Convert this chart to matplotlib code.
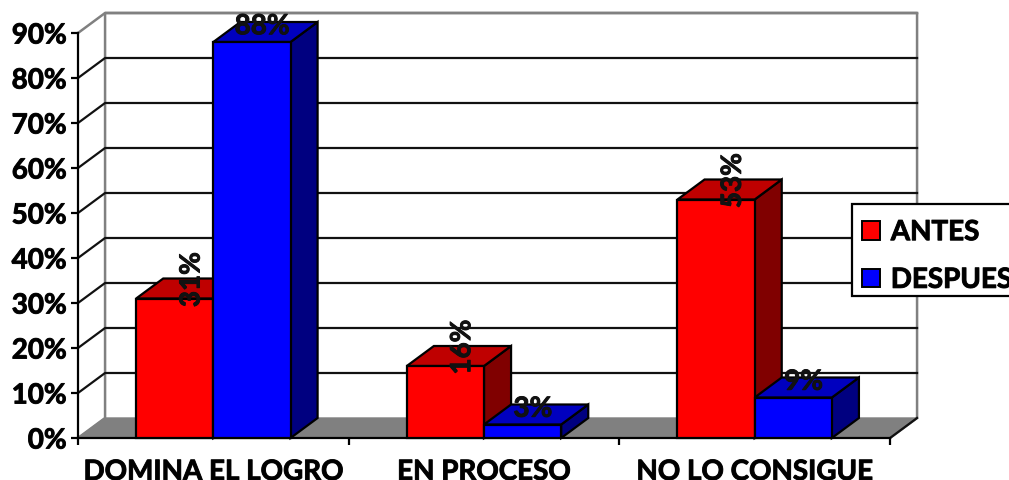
import numpy as np
import matplotlib
matplotlib.use("Agg")
import matplotlib.pyplot as plt
from matplotlib.patches import Polygon, Patch, Rectangle
import matplotlib.patheffects as pe

categories = ["DOMINA EL LOGRO", "EN PROCESO", "NO LO CONSIGUE"]
antes = [31, 16, 53]
despues = [88, 3, 9]
y_ticks = [0, 10, 20, 30, 40, 50, 60, 70, 80, 90]

plt.rcParams['font.family'] = ['Lato', 'DejaVu Sans']
plt.rcParams['font.weight'] = 'bold'

W, H = 1009, 481
fig = plt.figure(figsize=(W / 100, H / 100), dpi=100)
# front plane of the fake 3d box, in pixels
ax = fig.add_axes([78 / W, 1 - 439 / H, 812 / W, 405 / H])
ax.set_xlim(0, 3)
ax.set_ylim(0, 90)

# depth of the box in data units
dx = 27 / 270
dy = 20 / 4.5
bar_w = 77 / 270
FS = 20
# Lato bold is lighter than the original face, thicken it a bit
heavy = [pe.withStroke(linewidth=0.7, foreground='#111111')]


def poly(pts, fc, z, ec='black', lw=1.6):
    ax.add_patch(Polygon(pts, closed=True, facecolor=fc, edgecolor=ec,
                         linewidth=lw, zorder=z, clip_on=False, joinstyle='miter'))


# floor and walls
poly([(0, 0), (3, 0), (3 + dx, dy), (dx, dy)], '#808080', 1, ec='#808080', lw=1)
for t in y_ticks[1:-1]:
    ax.plot([0, dx, 3 + dx], [t, t + dy, t + dy], color='#111111', lw=1.6,
            zorder=1.2, clip_on=False)
ax.plot([0, dx, 3 + dx, 3 + dx, 3], [90, 90 + dy, 90 + dy, dy, 0], color='#808080',
        lw=1.8, zorder=1.1, clip_on=False)
ax.plot([0, dx, dx, 3 + dx], [0, dy, 90 + dy, 90 + dy], color='#808080',
        lw=1.8, zorder=1.1, clip_on=False)
ax.plot([3, 3 + dx], [0, dy], color='#111111', lw=1.6, zorder=1.3, clip_on=False)


def draw_series(offset, vals, front, top, side, z):
    xs = np.arange(len(vals)) + 0.5 + offset
    ax.bar(xs, vals, width=bar_w, color=front, edgecolor='black', linewidth=1.6,
           zorder=z + 0.2, clip_on=False)
    for x, v in zip(xs, vals):
        l, r = x - bar_w / 2, x + bar_w / 2
        poly([(r, 0), (r + dx, dy), (r + dx, v + dy), (r, v)], side, z)
        poly([(l, v), (r, v), (r + dx, v + dy), (l + dx, v + dy)], top, z + 0.1)


draw_series(-bar_w / 2, antes, '#ff0000', '#bf0000', '#800000', 3)
draw_series(bar_w / 2, despues, '#0000ff', '#0000bf', '#000080', 4)

# value labels, the ANTES ones are turned
for i, v in enumerate(antes):
    ax.text(i + 0.5 - bar_w / 2 + 0.062, v + 4.2, f"{v}%", rotation=90, ha='center',
            va='center', fontsize=FS, color='#111111', zorder=6, clip_on=False,
            path_effects=heavy)
for i, v in enumerate(despues):
    ax.text(i + 0.5 + bar_w / 2 + 0.038, v + 3.5, f"{v}%", ha='center',
            va='center', fontsize=FS, color='#111111', zorder=6, clip_on=False,
            path_effects=heavy)

ax.set_yticks(y_ticks)
ax.set_yticklabels([f"{t}%" for t in y_ticks], fontsize=FS, path_effects=heavy)
ax.set_xticks(np.arange(4))
ax.set_xticklabels([])
ax.set_xticks(np.arange(3) + 0.5, minor=True)
ax.set_xticklabels(categories, minor=True, fontsize=FS, path_effects=heavy)
ax.tick_params(axis='y', length=5, width=1.6, pad=3)
ax.tick_params(axis='x', which='major', length=5, width=1.6)
ax.tick_params(axis='x', which='minor', length=0, pad=15)

for s in ['top', 'right']:
    ax.spines[s].set_visible(False)
for s in ['left', 'bottom']:
    ax.spines[s].set_linewidth(1.6)
    ax.spines[s].set_zorder(2)
ax.patch.set_visible(False)

# legend box runs off the right edge, so it is drawn apart from the entries
ax.add_patch(Rectangle((852 / W, 1 - 297 / H), 170 / W, 92 / H, transform=fig.transFigure,
                       facecolor='white', edgecolor='black', linewidth=1.6,
                       zorder=9, clip_on=False))
leg = ax.legend(handles=[Patch(facecolor='#ff0000', edgecolor='black', linewidth=1.4, label='ANTES'),
                         Patch(facecolor='#0000ff', edgecolor='black', linewidth=1.4, label='DESPUES')],
                loc='lower left', bbox_to_anchor=(853 / W, 1 - 303 / H),
                bbox_transform=fig.transFigure, fontsize=FS, frameon=False, borderaxespad=0,
                handlelength=0.65, handleheight=0.65, handletextpad=0.38,
                labelspacing=0.78, borderpad=0.33)
leg.set_zorder(10)
for txt in leg.get_texts():
    txt.set_path_effects(heavy)

fig.savefig("out.png", dpi=100)
plt.close()
